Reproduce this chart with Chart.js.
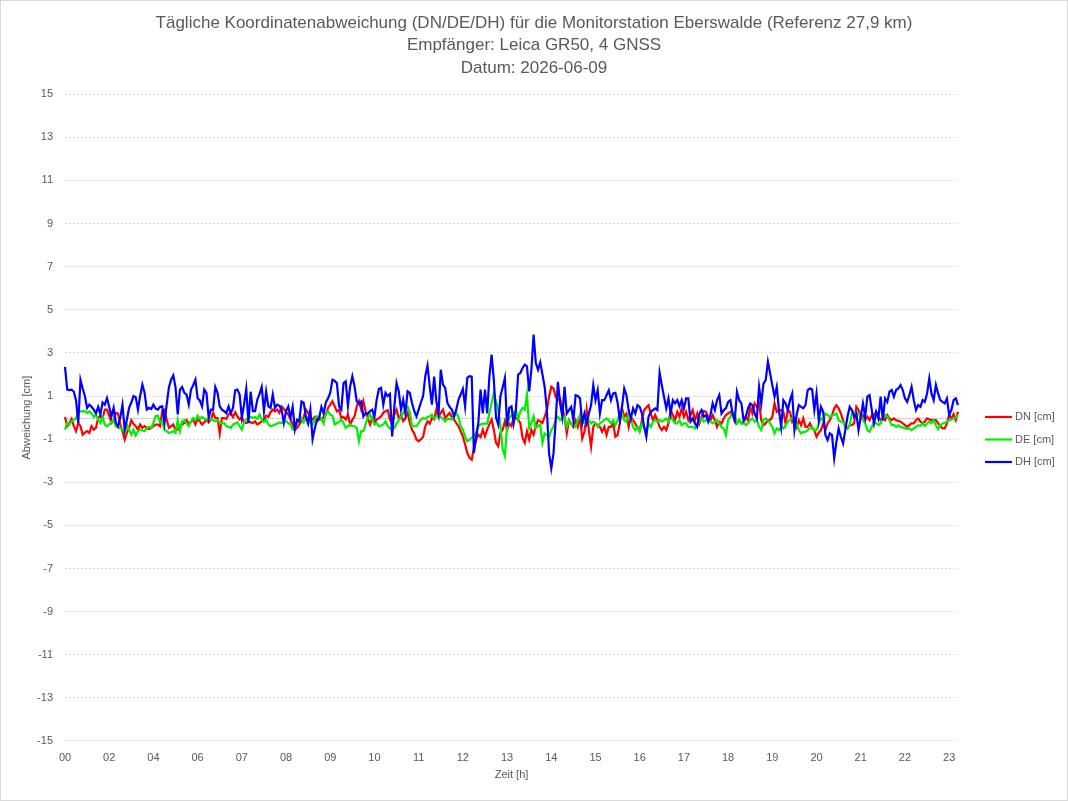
<!DOCTYPE html>
<html lang="de">
<head>
<meta charset="utf-8">
<title>Tägliche Koordinatenabweichung Eberswalde</title>
<script src="https://cdn.jsdelivr.net/npm/chart.js@4.4.1/dist/chart.umd.min.js"></script>
<style>
  html, body { margin: 0; padding: 0; background: #fff; }
  #wrap { width: 1068px; height: 801px; }
</style>
</head>
<body>
<div id="wrap"><canvas id="gnssChart" width="1068" height="801"></canvas></div>
<script>
/* ===== DATA ===== */
const titleLines = [
  "Tägliche Koordinatenabweichung (DN/DE/DH) für die Monitorstation Eberswalde (Referenz 27,9 km)",
  "Empfänger: Leica GR50, 4 GNSS",
  "Datum: 2026-06-09"
];
const seriesNames = ["DN [cm]", "DE [cm]", "DH [cm]"];
const hourLabels = ["00","02","04","06","07","08","09","10","11","12","13",
                    "14","15","16","17","18","19","20","21","22","23"];
const pointsPerLabel = 20;
const yTicks = { min: -15, max: 15, step: 2 };

// DN (red)
const dnValues = [
  0.03,-0.4,-0.25,-0.06,-0.4,-0.63,-0.25,-0.4,-0.79,-0.7,
  -0.63,-0.71,-0.4,-0.56,-0.48,-0.02,0.09,-0.02,0.37,0.37,
  0.09,-0.25,-0.12,0.22,0.19,-0.32,-0.63,-1.02,-0.71,-0.48,
  -0.12,-0.3,-0.4,-0.56,-0.32,-0.48,-0.4,-0.48,-0.53,-0.48,
  -0.4,-0.32,-0.32,-0.4,0.29,0.37,-0.09,-0.48,-0.4,-0.32,
  -0.56,-0.56,-0.4,-0.32,-0.25,-0.12,-0.28,-0.2,-0.09,-0.32,
  -0.06,-0.17,-0.32,-0.22,-0.09,-0.22,-0.09,0.22,-0.02,-0.02,
  -0.74,-0.02,-0.02,-0.06,0.14,0.22,0.03,0.25,0.06,-0.09,
  0.03,-0.22,-0.25,-0.2,-0.22,-0.25,-0.17,-0.32,-0.25,-0.17,
  -0.09,0.09,0.03,0.25,0.37,0.29,0.37,0.22,0.52,0.4,
  0.29,0.14,-0.06,-0.32,-0.56,-0.48,-0.32,-0.17,
  0.03,0.37,0.22,-0.06,-0.09,0.03,-0.17,-0.1,-0.09,0.03,
  0.14,0.45,0.6,0.76,0.52,0.29,0.37,-0.02,0.03,-0.09,
  0.14,-0.32,-0.1,0.06,0.52,0.76,0.37,0.76,0.29,-0.02,
  -0.32,-0.02,-0.25,-0.09,-0.02,0.06,0.22,0.3,0.34,-0.09,
  -0.28,0.14,0.37,-0.02,0.09,-0.17,-0.02,0.22,-0.25,-0.56,
  -0.74,-1.02,-1.1,-1.0,-0.9,-0.4,-0.17,-0.28,-0.02,-0.09,
  0.37,0.03,0.22,0.37,-0.02,0.1,0.22,0.03,-0.09,-0.25,
  -0.4,-0.63,-0.87,-1.24,-1.64,-1.87,-1.95,-1.41,-1.02,-0.79,
  -0.9,-0.56,-0.87,-0.56,-0.3,-0.09,-0.56,-1.17,-1.33,-0.71,
  -0.56,-0.17,-0.56,-0.28,-0.4,0.06,-0.02,-0.1,-0.25,-0.94,
  -1.17,-0.63,-1.02,-0.56,-0.79,-0.4,-0.12,-0.17,-0.25,
  0.04,0.35,0.97,1.43,1.35,0.97,0.81,0.89,0.43,0.04,
  -0.73,-0.12,-0.27,-0.43,-0.12,-0.43,0.04,-0.97,-0.66,0.35,
  -0.58,-1.35,-0.43,-0.27,-0.35,-0.43,-0.66,-0.43,-0.81,-0.43,
  -0.43,-0.27,-0.89,-0.81,-0.27,0.43,0.04,0.19,-0.43,0.04,
  -0.12,-0.27,-0.5,-0.58,-0.12,0.35,0.47,0.58,0.19,-0.12,
  0.12,-0.12,-0.43,-0.58,-0.43,-0.58,-0.27,0.35,0.12,-0.12,
  0.27,0.04,0.43,0.04,0.27,-0.12,0.12,0.35,-0.12,0.19,
  -0.27,0.04,0.31,0.27,0.04,-0.12,0.12,-0.12,-0.43,-0.19,
  -0.27,-0.04,0.12,0.19,0.27,0.19,-0.19,-0.27,-0.12,-0.27,
  -0.27,0.04,-0.12,0.5,0.19,0.66,0.5,0.66,-0.12,-0.35,
  -0.27,-0.12,-0.12,0.04,0.66,0.27,0.35,0.35,
  0.27,-0.27,0.35,0.27,-0.19,-0.04,-0.43,-0.12,-0.35,-0.04,
  -0.43,-0.43,-0.27,-0.5,-0.58,-0.89,-0.7,-0.58,-0.27,-0.58,
  -0.27,-0.12,0.12,0.43,0.58,0.43,0.19,-0.12,-0.43,-0.5,
  -0.35,-0.35,-0.27,0.5,0.35,0.04,0.12,-0.12,0.04,-0.12,
  0.12,0.12,0.27,0.04,-0.12,-0.04,-0.12,0.12,-0.04,-0.12,
  -0.04,-0.12,-0.15,-0.19,-0.27,-0.35,-0.43,-0.35,-0.27,-0.27,
  -0.12,-0.04,-0.19,-0.27,-0.19,-0.04,-0.09,-0.12,-0.12,-0.12,
  -0.27,-0.39,-0.5,-0.5,-0.27,0.12,-0.04,0.16,-0.12,0.27
];

// DE (green)
const deValues = [
  -0.56,-0.25,-0.32,-0.17,-0.12,-0.02,0.22,0.29,0.3,0.29,
  0.22,0.29,0.19,0.03,0.14,-0.09,-0.25,0.03,-0.32,-0.4,
  -0.32,-0.2,-0.09,-0.4,-0.48,-0.48,-0.56,-0.71,-0.32,-0.56,
  -0.79,-0.56,-0.83,-0.63,-0.56,-0.6,-0.63,-0.48,-0.43,-0.48,
  -0.25,0.06,0.09,-0.22,-0.17,-0.56,-0.63,-0.71,-0.68,-0.63,
  -0.71,-0.12,-0.63,-0.17,-0.12,-0.28,-0.4,-0.17,-0.02,-0.12,
  0.09,-0.06,0.03,-0.06,-0.08,-0.09,-0.06,-0.12,-0.17,-0.12,
  -0.22,-0.28,-0.25,-0.4,-0.43,-0.48,-0.32,-0.28,-0.22,-0.4,
  -0.56,-0.25,-0.09,-0.02,0.03,-0.02,0.03,-0.06,0.14,-0.09,
  -0.2,-0.09,-0.32,-0.4,-0.37,-0.32,-0.28,-0.22,-0.25,-0.2,
  -0.17,-0.25,-0.32,-0.56,-0.53,-0.25,-0.17,-0.02,
  -0.22,-0.02,0.03,-0.22,-0.32,-0.1,0.06,0.03,-0.06,-0.28,
  0.25,0.29,0.14,0.09,-0.32,-0.25,-0.2,-0.09,-0.25,-0.48,
  -0.4,-0.32,-0.4,-0.4,-0.48,-1.1,-0.63,-0.63,-0.3,-0.02,
  0.14,-0.09,-0.32,-0.25,-0.4,-0.37,-0.32,-0.17,-0.4,-0.5,
  -0.56,-0.48,-0.28,-0.12,0.03,0.22,0.4,0.5,0.22,-0.4,
  -0.4,-0.4,-0.25,-0.09,-0.02,-0.06,0.03,0.06,0.14,-0.06,
  0.06,0.09,0.03,-0.05,-0.17,-0.06,-0.06,-0.09,0.03,0.22,
  0.03,-0.4,-0.56,-0.87,-1.1,-1.02,-0.94,-0.85,-0.71,-0.4,
  -0.32,-0.28,-0.28,-0.28,0.2,0.68,1.14,0.76,0.37,-0.4,
  -1.48,-1.79,-0.4,-0.02,0.1,0.22,0.37,-0.09,0.29,0.45,
  0.37,1.07,-0.48,-0.25,0.06,-0.48,-0.4,-0.32,-1.17,
  -0.73,-0.81,-0.89,-0.58,-0.43,-0.12,0.04,-0.12,-0.04,0.04,
  -0.43,-0.12,-0.27,-0.35,-0.43,-0.12,0.12,-0.12,-0.27,-0.04,
  -0.12,-0.27,-0.19,-0.27,-0.43,-0.27,-0.19,-0.12,-0.04,-0.12,
  -0.27,-0.12,-0.35,-0.12,0.19,0.22,-0.12,-0.19,0.19,0.04,
  -0.43,-0.58,-0.43,-0.66,-0.27,-0.43,-0.66,-0.27,-0.43,-0.19,
  -0.12,-0.19,-0.12,-0.19,-0.12,-0.04,-0.19,0.04,-0.12,-0.27,
  -0.27,-0.12,-0.35,-0.27,-0.27,-0.43,-0.43,-0.43,-0.5,-0.35,
  -0.12,-0.04,-0.19,-0.12,-0.12,-0.19,-0.27,-0.19,-0.12,-0.27,
  -0.43,-0.5,-0.81,-0.12,0.04,0.27,0.12,-0.27,-0.12,-0.27,
  -0.19,-0.35,-0.27,-0.12,-0.04,-0.19,-0.12,-0.43,-0.58,-0.12,
  -0.04,-0.12,-0.27,-0.43,-0.73,-0.5,-0.58,-0.43,
  -0.5,-0.35,-0.19,-0.12,-0.04,-0.12,-0.27,-0.58,-0.73,-0.66,
  -0.66,-0.58,-0.5,-0.43,-0.58,-0.58,-0.3,-0.04,-0.12,0.19,
  0.12,0.04,0.12,0.12,0.19,-0.12,-0.19,-0.19,-0.35,-0.5,
  -0.35,0.19,0.27,0.12,0.19,0.05,-0.12,-0.27,-0.58,-0.66,
  -0.43,-0.19,-0.27,-0.35,-0.27,-0.04,0.12,0.04,-0.12,-0.35,
  -0.35,-0.43,-0.35,-0.43,-0.46,-0.5,-0.52,-0.5,-0.58,-0.5,
  -0.43,-0.35,-0.39,-0.27,-0.39,-0.27,-0.19,-0.27,-0.12,-0.35,
  -0.54,-0.35,-0.27,-0.24,-0.19,-0.12,-0.09,-0.04,0.0,0.12
];

// DH (blue)
const dhValues = [
  2.35,1.3,1.28,1.3,1.2,0.8,-0.25,1.75,1.35,1.0,
  0.45,0.6,0.5,0.37,0.2,0.5,0.15,0.7,0.6,0.9,
  0.5,0.05,0.45,-0.25,-0.4,0,0.6,-0.55,-0.1,0.45,
  0.7,1.0,0.95,0.37,1.0,1.53,1.15,0.37,0.45,0.4,
  0.6,0.42,0.37,0.5,0.52,-0.25,0.6,1.4,1.76,1.96,
  1.4,0.15,1.3,1.42,1.15,1.07,0.6,1.3,1.5,1.76,
  0.9,0.8,0.52,1.3,1.15,0,0.37,0.37,1.42,1.15,
  0.52,0.37,0.3,0.2,0.52,0.2,0.45,1.27,1.3,1.07,
  0,0.6,1.33,-0.25,1.2,0.3,0.3,0.83,1.1,1.42,
  0.3,1.2,0.52,0.45,1.07,0.45,0.6,0.55,0.37,-0.25,
  0.3,0.52,0,0.5,-0.55,-0.1,-0.17,0.75,
  0.68,0.03,-0.28,0.37,-1.0,-0.5,-0.1,0,0.5,0.2,
  0.7,0.9,1.15,1.76,1.7,1.6,0.52,0.37,1.6,1.68,
  0.55,1.45,1.92,1.45,0.75,0.65,0.75,0.06,0.2,0.18,
  0.3,0.37,0.03,0.83,1.33,1.38,0.6,1.15,1.0,1.1,
  -0.87,0.52,1.6,1.22,0.37,0.83,0.2,1.22,1.15,0.68,
  0.3,0.06,0.37,0.7,1.0,1.92,2.41,1.45,0.6,1.9,
  0.75,0.2,2.22,1.53,1.38,0.68,0.5,0.37,0.06,0.37,
  0.83,1.07,1.33,0.52,1.84,1.92,1.9,-1.64,-0.9,-0.25,
  1.3,0.2,1.3,0.2,1.92,2.92,1.76,0,-0.32,1.0,
  1.4,1.84,-0.4,0.45,0.52,-0.25,0.37,2.0,2.07,2.3,
  2.46,2.38,1.22,2.22,3.85,2.53,2.22,2.57,2.0,
  1.43,0.35,-1.66,-2.36,-1.66,-0.12,1.66,0.66,0.04,1.43,
  0.19,0.35,0.5,-0.12,1.04,1.0,0.89,-0.27,0.19,-0.27,
  0.19,0.58,1.5,0.81,1.27,0.19,0.81,0.81,1.04,1.27,
  0.81,1.12,1.15,0.69,-0.12,0.5,1.35,1.04,0.35,-0.04,
  0.43,0.19,0.58,0.5,0.19,-0.43,-0.89,0.04,0.27,0.35,
  0.43,0.35,2.08,1.5,0.97,0.43,0.89,0.19,0.81,0.66,
  0.81,0.53,0.81,0.43,0.89,0.89,-0.19,-0.04,-0.27,-0.43,
  0.19,0.35,0.04,0.12,-0.19,0.12,0.66,0.35,0.81,1.04,
  0.19,0.35,0.43,0.73,0.81,0.19,-0.12,1.2,0.81,0.66,
  -0.12,0.04,0.43,0.66,0.58,0.19,-0.04,1.43,0.66,1.58,
  1.74,2.59,2.05,1.5,0.97,1.43,0.35,-0.43,
  0.81,0.66,0.35,0.81,1.12,-0.58,0.12,0.58,0.5,0.43,
  0.58,1.28,1.35,1.31,0.35,1.12,-0.12,0.5,0.27,-0.81,
  -1.04,-0.73,-0.81,-1.89,-1.12,-0.5,-0.89,-1.2,-0.58,0.04,
  0.5,0.35,0.04,0.19,-0.58,0.04,0.66,0.04,0.97,1.04,
  0.35,-0.27,0.27,-0.04,0.97,-0.12,0.89,0.73,1.2,1.28,
  0.97,1.28,1.35,1.51,1.28,0.89,0.73,1.04,1.43,0.81,
  0.35,0.58,0.5,0.81,0.73,1.12,1.82,1.12,0.81,1.51,
  1.12,0.81,0.73,0.66,0.89,0.12,0.35,0.81,0.89,0.58
];

/* ===== HELPERS ===== */
const FONT = "'Liberation Sans', Arial, sans-serif";
const TEXT_GREY = "#595959";

// one category per sample, hour text only on every n-th sample
const categories = dhValues.map((_, i) =>
  i % pointsPerLabel === 0 ? (hourLabels[i / pointsPerLabel] || "") : "");

/* ===== PLUGINS ===== */
const zeroLine = {
  id: "zeroLine",
  beforeDatasetsDraw(chart) {
    const { ctx, chartArea, scales } = chart;
    const y = Math.round(scales.y.getPixelForValue(0)) + 0.5;
    ctx.save();
    ctx.strokeStyle = "#d0d0d0";
    ctx.lineWidth = 1;
    ctx.beginPath();
    ctx.moveTo(chartArea.left, y);
    ctx.lineTo(chartArea.right, y);
    ctx.stroke();
    ctx.restore();
  }
};

const sideLegend = {
  id: "sideLegend",
  afterDraw(chart) {
    const ctx = chart.ctx;
    const x0 = 985, y0 = 417, step = 22.5;
    ctx.save();
    ctx.font = "11px " + FONT;
    ctx.textBaseline = "middle";
    chart.data.datasets.forEach((ds, i) => {
      const y = y0 + i * step;
      ctx.strokeStyle = ds.borderColor;
      ctx.lineWidth = 2.2;
      ctx.beginPath();
      ctx.moveTo(x0, y);
      ctx.lineTo(x0 + 27, y);
      ctx.stroke();
      ctx.fillStyle = TEXT_GREY;
      ctx.fillText(ds.label, x0 + 30, y);
    });
    ctx.restore();
  }
};

const frame = {
  id: "frame",
  beforeDraw(chart) {
    const { ctx, width, height } = chart;
    ctx.save();
    ctx.fillStyle = "#ffffff";
    ctx.fillRect(0, 0, width, height);
    ctx.strokeStyle = "#d9d9d9";
    ctx.lineWidth = 1;
    ctx.strokeRect(0.5, 0.5, width - 1, height - 1);
    ctx.restore();
  }
};

/* ===== CHART ===== */
Chart.defaults.font.family = FONT;
Chart.defaults.color = TEXT_GREY;

const lineDs = (label, data, color, order) => ({
  label, data,
  borderColor: color,
  backgroundColor: color,
  borderWidth: 2.2,
  pointRadius: 0,
  tension: 0,
  fill: false,
  order
});

new Chart(document.getElementById("gnssChart"), {
  type: "line",
  data: {
    labels: categories,
    datasets: [
      lineDs(seriesNames[0], dnValues, "#ff0000", 2),
      lineDs(seriesNames[1], deValues, "#00f000", 1),
      lineDs(seriesNames[2], dhValues, "#0000ff", 0)
    ]
  },
  options: {
    responsive: false,
    animation: false,
    devicePixelRatio: 1,
    layout: { padding: { left: 0, right: 0, top: 0, bottom: 14 } },
    plugins: {
      legend: { display: false },
      tooltip: { enabled: false },
      title: {
        display: true,
        text: titleLines,
        color: TEXT_GREY,
        font: { size: 17, weight: "normal", lineHeight: 1.318 },
        padding: { top: 12, bottom: 15 }
      }
    },
    scales: {
      x: {
        type: "category",
        offset: false,
        grid: { display: false, drawTicks: false },
        border: { display: false },
        ticks: {
          autoSkip: false,
          maxRotation: 0,
          padding: 10,
          font: { size: 11 },
          callback: (v, i) => (i % pointsPerLabel === 0 ? categories[i] : null)
        },
        title: { display: true, text: "Zeit [h]", font: { size: 11 }, padding: { top: 4, bottom: 5 } },
        afterFit: s => { s.height = 46; }
      },
      y: {
        min: yTicks.min,
        max: yTicks.max,
        grid: { color: "#d9d9d9", lineWidth: 1, drawTicks: false },
        border: { display: false, dash: [2, 2] },
        ticks: { stepSize: yTicks.step, padding: 12, font: { size: 11 } },
        title: { display: true, text: "Abweichung [cm]", font: { size: 11 }, padding: { top: 20, bottom: 4 } },
        afterFit: s => { s.width = 65; }
      },
      // empty right-hand axis, keeps room for the series legend
      legendSpace: {
        position: "right",
        display: true,
        grid: { display: false, drawTicks: false },
        border: { display: false },
        ticks: { display: false },
        afterFit: s => { s.width = 110; }
      }
    }
  },
  plugins: [frame, zeroLine, sideLegend]
});
</script>
</body>
</html>
